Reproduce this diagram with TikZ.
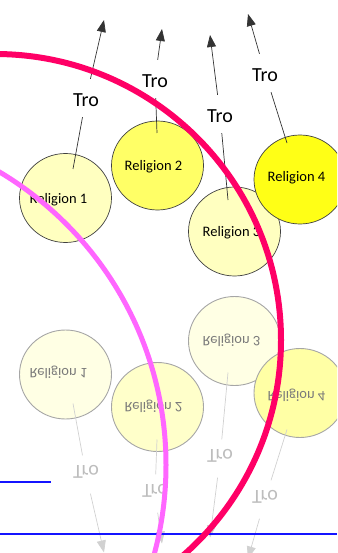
\documentclass[tikz,border=0pt]{standalone}
\usepackage{fontspec}
\setmainfont{Carlito}
\usetikzlibrary{arrows.meta,shapes.geometric}
\definecolor{toppale}{RGB}{255,255,192}
\definecolor{topmidy}{RGB}{255,255,102}
\definecolor{topbright}{RGB}{255,255,22}
\definecolor{refpale}{RGB}{255,255,228}
\definecolor{refmidy}{RGB}{255,255,202}
\definecolor{refbright}{RGB}{255,255,165}
\definecolor{crimarc}{RGB}{255,0,102}
\definecolor{pinkarc}{RGB}{255,102,255}
\definecolor{blueline}{RGB}{20,20,255}
\tikzset{
  basecirc/.style={ellipse, minimum width=92pt, minimum height=89pt, inner sep=0pt},
  topcirc/.style={basecirc, draw=black!75, line width=0.7pt},
  refcirc/.style={basecirc, draw=black!35, line width=0.9pt},
  basetext/.style={font=\fontsize{14.5}{17}\selectfont, inner sep=0pt},
  toptext/.style={basetext, text=black},
  reftext/.style={basetext, text=black!52},
  basetro/.style={font=\fontsize{20}{24}\selectfont, text height=24pt, text depth=6pt, inner ysep=4pt, inner xsep=2pt},
  toptro/.style={basetro, text=black},
  reftro/.style={basetro, text=black!26},
  toparrow/.style={draw=black!80, line width=0.7pt},
  refarrow/.style={draw=black!18, line width=0.7pt},
  tophead/.style={-{Triangle[length=12pt,width=9pt]}},
  refhead/.style={-{Triangle[length=12pt,width=9pt]}},
  bluestroke/.style={draw=blueline, line width=1.3pt},
  pinkstroke/.style={draw=pinkarc, line width=5pt},
  crimstroke/.style={draw=crimarc, line width=6pt}
}
\newcommand\drawreligions[2]{%
  \node[#2circ, fill=#2pale]   (#1c1) at (65.5,198) {};
  \node[#2circ, fill=#2midy]   (#1c2) at (157.5,165.5) {};
  \node[#2circ, fill=#2pale]   (#1c3) at (234.5,231.5) {};
  \node[#2circ, fill=#2bright] (#1c4) at (300,179.5) {};
  \node[#2text] (#1l1) at (58.5,200) {Religion 1};
  \node[#2text] (#1l2) at (153.5,166.5) {Religion 2};
  \node[#2text] (#1l3) at (231.5,232.5) {Religion 3};
  \node[#2text] (#1l4) at (296.5,177.5) {Religion 4};
  \coordinate (#1s1) at (73,169);  \coordinate (#1e1) at (104,20);
  \coordinate (#1s2) at (157,133); \coordinate (#1e2) at (162,29);
  \coordinate (#1s3) at (228,200); \coordinate (#1e3) at (210,35);
  \coordinate (#1s4) at (287,143); \coordinate (#1e4) at (248,14);
  \node[#2tro] (#1t1) at (86,98) {Tro};
  \node[#2tro] (#1t2) at (155,79) {Tro};
  \node[#2tro] (#1t3) at (220,114) {Tro};
  \node[#2tro] (#1t4) at (265,73) {Tro};
  \draw[#2arrow] (#1s1) -- (#1t1);
  \draw[#2arrow, #2head] (#1t1) -- (#1e1);
  \draw[#2arrow] (#1s2) -- (#1t2);
  \draw[#2arrow, #2head] (#1t2) -- (#1e2);
  \draw[#2arrow] (#1s3) -- (#1t3);
  \draw[#2arrow, #2head] (#1t3) -- (#1e3);
  \draw[#2arrow] (#1s4) -- (#1t4);
  \draw[#2arrow, #2head] (#1t4) -- (#1e4);
}
\begin{document}
\begin{tikzpicture}[x=1pt,y=-1pt]
  \useasboundingbox (0,0) rectangle (337,553);
  \clip (0,0) rectangle (337,553);
  % faded mirror image
  \begin{scope}[shift={(0,572.5)}, yscale=-1, transform shape]
    \drawreligions{m}{ref}
  \end{scope}
  % blue lines
  \coordinate (b1a) at (0,482);  \coordinate (b1b) at (51,482);
  \coordinate (b2a) at (0,534);  \coordinate (b2b) at (337,534);
  \draw[bluestroke] (b1a) -- (b1b);
  \draw[bluestroke] (b2a) -- (b2b);
  % main diagram
  \drawreligions{n}{top}
  % arcs
  \draw[pinkstroke] (-175,465) circle [radius=341pt];
  \draw[crimstroke] (-5,340) circle [radius=286pt];
\end{tikzpicture}
\end{document}
